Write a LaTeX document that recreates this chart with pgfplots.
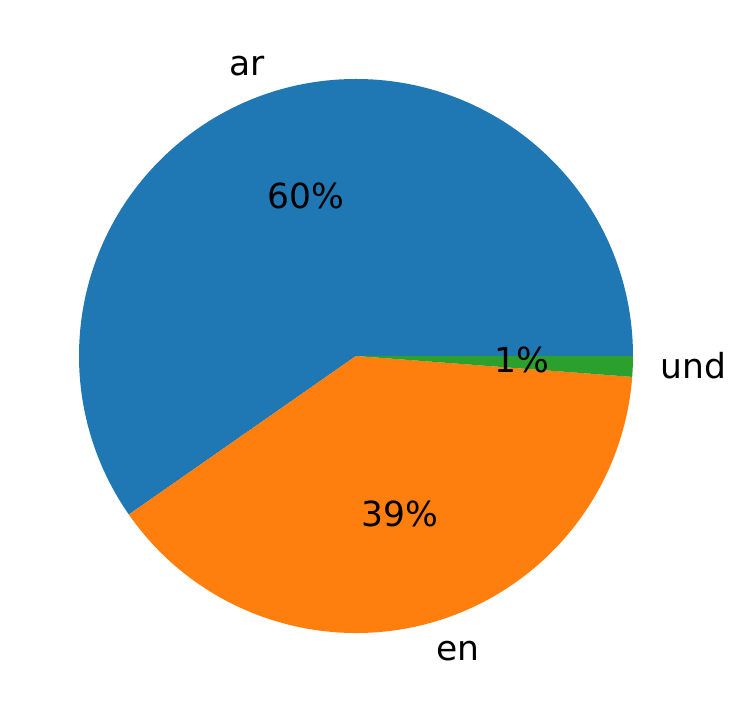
\documentclass[border=0pt]{standalone}
\usepackage{pgfplots}
\pgfplotsset{compat=1.18}
\usepackage{pgfplotstable}
\usepackage{fontspec}
\setmainfont{DejaVu Sans}
\definecolor{c0}{HTML}{1F77B4}
\definecolor{c1}{HTML}{FF7F0E}
\definecolor{c2}{HTML}{2CA02C}
\pgfplotstableread{
label value
ar 59.7
en 39.1
und 1.2
}\piedata
\begin{document}
\begin{tikzpicture}
\pgfplotstablegetelem{0}{value}\of\piedata \let\vA\pgfplotsretval
\pgfplotstablegetelem{1}{value}\of\piedata \let\vB\pgfplotsretval
\pgfplotstablegetelem{2}{value}\of\piedata \let\vC\pgfplotsretval
\pgfmathsetmacro\tot{\vA+\vB+\vC}
\pgfmathsetmacro\fA{\vA/\tot}
\pgfmathsetmacro\fB{\vB/\tot}
\pgfmathsetmacro\fC{\vC/\tot}
\pgfmathsetmacro\aA{360*\fA}
\pgfmathsetmacro\aB{\aA+360*\fB}
\pgfmathsetmacro\mA{\aA/2}
\pgfmathsetmacro\mB{(\aA+\aB)/2}
\pgfmathsetmacro\mC{(\aB+360)/2}
\pgfmathtruncatemacro\pA{round(100*\fA)}
\pgfmathtruncatemacro\pB{round(100*\fB)}
\pgfmathtruncatemacro\pC{round(100*\fC)}
\begin{axis}[width=737pt,height=713pt,scale only axis,xmin=0,xmax=737,ymin=0,ymax=713,hide axis,clip=false]
\path (rel axis cs:0,0) rectangle (rel axis cs:1,1);
\fill[c0] (axis cs:356,357) -- ++(0:277pt) arc[start angle=0,end angle=\aA,radius=277pt] -- cycle;
\fill[c1] (axis cs:356,357) -- ++(\aA:277pt) arc[start angle=\aA,end angle=\aB,radius=277pt] -- cycle;
\fill[c2] (axis cs:356,357) -- ++(\aB:277pt) arc[start angle=\aB,end angle=360,radius=277pt] -- cycle;
\tikzset{lbl/.style={inner sep=0pt,font=\fontsize{34.5}{40}\selectfont,text height=0.76em,text depth=0.24em,yshift=-8pt}}
\path (axis cs:356,357) ++(\mA:304.7pt) node[lbl,anchor=east]{ar};
\path (axis cs:356,357) ++(\mB:304.7pt) node[lbl,anchor=west]{en};
\path (axis cs:356,357) ++(\mC:304.7pt) node[lbl,anchor=west]{und};
\path (axis cs:356,357) ++(\mA:166.2pt) node[lbl,anchor=center]{\pA\%};
\path (axis cs:356,357) ++(\mB:166.2pt) node[lbl,anchor=center]{\pB\%};
\path (axis cs:356,357) ++(\mC:166.2pt) node[lbl,anchor=center]{\pC\%};
\end{axis}
\end{tikzpicture}
\end{document}
